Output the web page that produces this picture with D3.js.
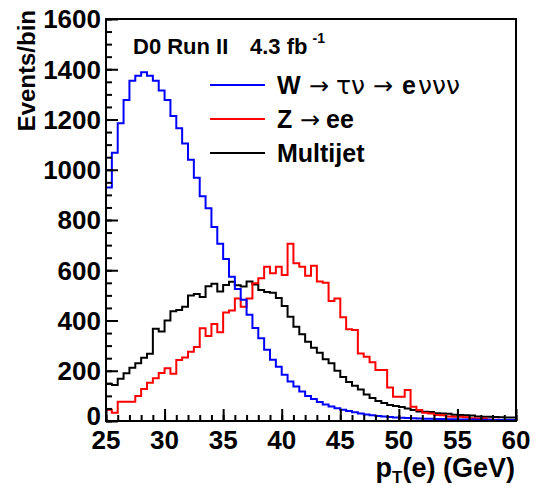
<!DOCTYPE html>
<html>
<head>
<meta charset="utf-8">
<script src="https://cdn.jsdelivr.net/npm/d3@7/dist/d3.min.js"></script>
<style>
  html, body { margin: 0; padding: 0; background: #fff; }
  svg { display: block; font-family: "Liberation Sans", Arial, Helvetica, sans-serif; }
</style>
</head>
<body>
<svg id="chart" width="535" height="486"></svg>
<script>
// Histogram binning: 70 bins of 0.5 GeV from 25 to 60 GeV
const binStart = 25;
const binWidth = 0.5;

// Events per bin, W -> tau nu -> e nu nu nu
const wTauNu = [
  929, 1068, 1185, 1278, 1354, 1374, 1388, 1374, 1354, 1315,
  1278, 1214, 1165, 1104, 1040, 968, 895, 847, 772, 705,
  645, 574, 525, 483, 423, 370, 329, 284, 244, 216,
  184, 157, 137, 117, 100, 88, 76, 66, 58, 51,
  45, 40, 35, 30, 26, 23, 20, 18, 16, 14,
  13, 12, 11, 10, 9, 9, 8, 8, 7, 7,
  6, 6, 6, 5, 5, 5, 4, 4, 4, 4
];

// Events per bin, Z -> ee
const zee = [
  45, 33, 77, 77, 77, 100, 127, 152, 170, 191,
  210, 188, 243, 253, 276, 295, 369, 338, 386, 353,
  432, 440, 488, 455, 488, 548, 568, 614, 588, 614,
  581, 705, 628, 614, 578, 618, 555, 550, 478, 488,
  413, 365, 362, 269, 256, 234, 203, 203, 133, 97,
  97, 123, 57, 44, 33, 30, 24, 23, 18, 17,
  17, 15, 11, 10, 10, 6, 5, 4, 4, 3
];

// Events per bin, multijet background
const multijet = [
  148, 143, 168, 190, 212, 230, 252, 268, 367, 356,
  400, 437, 442, 455, 500, 505, 494, 536, 546, 515,
  541, 554, 540, 535, 555, 543, 521, 513, 510, 490,
  458, 415, 375, 345, 315, 292, 272, 246, 230, 200,
  175, 155, 140, 125, 105, 92, 80, 72, 64, 60,
  56, 50, 44, 38, 37, 36, 31, 30, 29, 25,
  24, 23, 22, 18, 17, 17, 16, 15, 14, 14
];

const xTicks = [25, 30, 35, 40, 45, 50, 55, 60];
const yTicks = [0, 200, 400, 600, 800, 1000, 1200, 1400, 1600];

const seriesColors = { w: "#0000ff", z: "#ff0000", qcd: "#000000" };

// Frame geometry
const frameL = 106, frameR = 516, frameT = 19, frameB = 421;

const svg = d3.select("#chart");
const x = d3.scaleLinear().domain([25, 60]).range([frameL, frameR]);
const y = d3.scaleLinear().domain([0, 1600]).range([frameB, frameT]);

// Step histogram outline
function stepPoints(vals) {
  const pts = vals.map((v, i) => [binStart + i * binWidth, v]);
  pts.push([binStart + vals.length * binWidth, vals[vals.length - 1]]);
  return pts;
}
const stepLine = d3.line()
  .x(d => x(d[0]))
  .y(d => y(d[1]))
  .curve(d3.curveStepAfter);

const plot = svg.append("g");
[[multijet, seriesColors.qcd], [zee, seriesColors.z], [wTauNu, seriesColors.w]].forEach(([vals, color]) => {
  plot.append("path")
    .attr("d", stepLine(stepPoints(vals)))
    .attr("fill", "none")
    .attr("stroke", color)
    .attr("stroke-width", 2)
    .attr("stroke-linejoin", "miter");
});

// Axes with inward ticks (major + minor)
const yAxisMinor = d3.axisRight(y).tickValues(d3.range(0, 1601, 50)).tickSize(6).tickFormat("");
const yAxisMajor = d3.axisRight(y).tickValues(yTicks).tickSize(12).tickFormat("");
const xAxisMinor = d3.axisTop(x).tickValues(d3.range(25, 60.01, 1)).tickSize(6).tickFormat("");
const xAxisMajor = d3.axisTop(x).tickValues(xTicks).tickSize(12).tickFormat("");

[yAxisMinor, yAxisMajor].forEach(ax => {
  const g = svg.append("g").attr("transform", `translate(${frameL},0)`).call(ax);
  g.select(".domain").remove();
  g.selectAll("line").attr("stroke", "#000").attr("stroke-width", 2);
});
[xAxisMinor, xAxisMajor].forEach(ax => {
  const g = svg.append("g").attr("transform", `translate(0,${frameB})`).call(ax);
  g.select(".domain").remove();
  g.selectAll("line").attr("stroke", "#000").attr("stroke-width", 2);
});

// Frame
svg.append("rect")
  .attr("x", frameL).attr("y", frameT)
  .attr("width", frameR - frameL).attr("height", frameB - frameT)
  .attr("fill", "none").attr("stroke", "#000").attr("stroke-width", 2);

// Tick labels
svg.append("g").selectAll("text").data(yTicks).join("text")
  .attr("x", frameL - 5)
  .attr("y", d => y(d) - (d === 0 ? 5 : 0))
  .attr("dy", "0.36em")
  .attr("text-anchor", "end")
  .attr("font-size", 26).attr("font-weight", "bold")
  .text(d => d);

svg.append("g").selectAll("text").data(xTicks).join("text")
  .attr("x", d => x(d))
  .attr("y", 449)
  .attr("text-anchor", "middle")
  .attr("font-size", 26).attr("font-weight", "bold")
  .text(d => d);

// Axis titles
const xt = svg.append("text")
  .attr("x", 515).attr("y", 477)
  .attr("text-anchor", "end")
  .attr("font-size", 27).attr("font-weight", "bold");
xt.append("tspan").text("p");
xt.append("tspan").attr("font-size", 17).attr("dy", 6).text("T");
xt.append("tspan").attr("dy", -6).text("(e) (GeV)");

svg.append("text")
  .attr("transform", "translate(35,10) rotate(-90)")
  .attr("text-anchor", "end")
  .attr("font-size", 24).attr("font-weight", "bold")
  .text("Events/bin");

// Header label
const hdr = svg.append("text")
  .attr("x", 133).attr("y", 54)
  .attr("font-size", 22).attr("font-weight", "bold");
hdr.append("tspan").text("D0 Run II");
hdr.append("tspan").attr("x", 250).text("4.3 fb");
hdr.append("tspan").attr("font-size", 14).attr("dx", 5).attr("dy", -11).text("-1");

// Legend
const legY = [85, 119, 153];
const legColors = [seriesColors.w, seriesColors.z, seriesColors.qcd];
const leg = svg.append("g");
legY.forEach((ly, i) => {
  leg.append("line")
    .attr("x1", 210).attr("x2", 265)
    .attr("y1", ly).attr("y2", ly)
    .attr("stroke", legColors[i]).attr("stroke-width", 2);
});

const symbolFont = "'DejaVu Sans', 'Noto Sans', sans-serif";
function legendText(ly, parts) {
  const t = leg.append("text").attr("y", ly + 9).attr("font-size", 25);
  parts.forEach(p => {
    t.append("tspan")
      .attr("x", p.x)
      .attr("font-weight", p.bold ? "bold" : "normal")
      .attr("font-size", p.size || 25)
      .attr("font-family", p.sym ? symbolFont : null)
      .text(p.s);
  });
}
legendText(legY[0], [
  { s: "W", bold: true, x: 277 },
  { s: "→", sym: true, size: 24, x: 309 },
  { s: "τν", sym: true, size: 25, x: 336 },
  { s: "→", sym: true, size: 24, x: 373 },
  { s: "e", bold: true, x: 402 },
  { s: "ννν", sym: true, size: 25, x: 418 }
]);
legendText(legY[1], [
  { s: "Z", bold: true, x: 277 },
  { s: "→", sym: true, size: 24, x: 300 },
  { s: "ee", bold: true, x: 326 }
]);
legendText(legY[2], [
  { s: "Multijet", bold: true, x: 277 }
]);
</script>
</body>
</html>
